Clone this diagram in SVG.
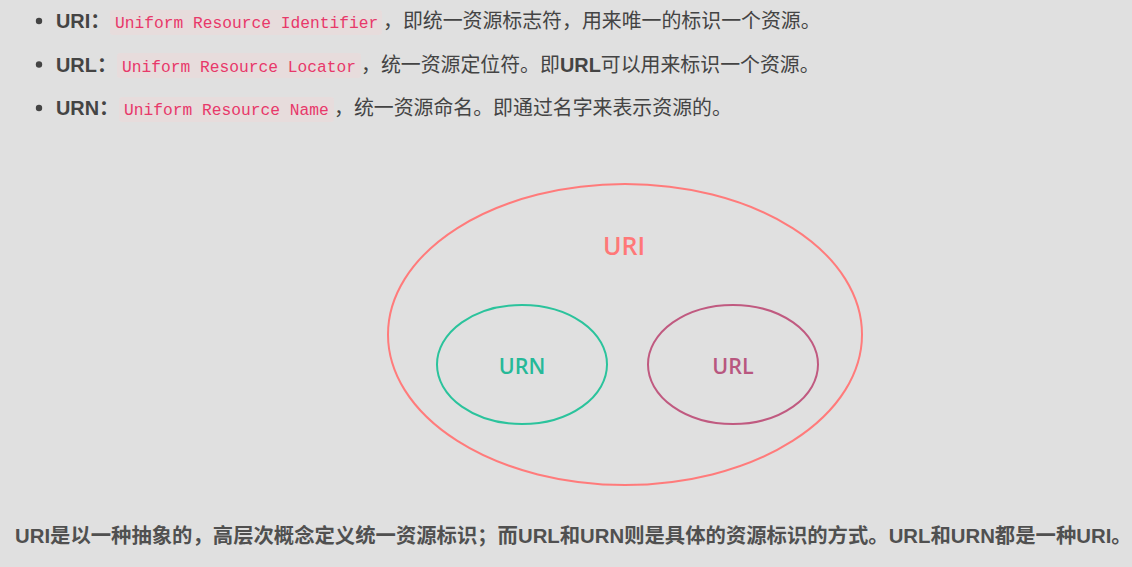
<svg xmlns="http://www.w3.org/2000/svg" width="1132" height="567" viewBox="0 0 1132 567">
<style>
.t{font-family:"Liberation Sans","Noto Sans CJK SC",sans-serif;font-size:19.9px;fill:#444}
.b{font-weight:bold}
.code{font-family:"Liberation Mono","DejaVu Sans Mono",monospace;font-size:16.25px;fill:#e8386a}
.cbg{fill:#e7dcdc}
.foot{font-family:"Liberation Sans","Noto Sans CJK SC",sans-serif;font-size:20.35px;font-weight:bold;fill:#505050}
.lbl{font-family:"Open Sans","Noto Sans",sans-serif;font-weight:600;text-anchor:middle}
.ell{fill:none;stroke-width:2}
</style>
<rect width="1132" height="567" fill="#e0e0e0"/>
<g id="list">
<circle cx="39" cy="21" r="3.2" fill="#444"/>
<text class="t b" x="56" y="28">URI：</text>
<rect class="cbg" x="110" y="10" width="272" height="25" rx="3"/>
<text class="code" x="115" y="28">Uniform Resource Identifier</text>
<text class="t" x="383" y="28">，即统一资源标志符，用来唯一的标识一个资源。</text>

<circle cx="39" cy="64.5" r="3.2" fill="#444"/>
<text class="t b" x="56" y="71.5">URL：</text>
<rect class="cbg" x="117" y="53" width="244" height="25" rx="3"/>
<text class="code" x="122" y="71.5">Uniform Resource Locator</text>
<text class="t" x="361" y="71.5">，统一资源定位符。即<tspan class="b">URL</tspan>可以用来标识一个资源。</text>

<circle cx="39" cy="108" r="3.2" fill="#444"/>
<text class="t b" x="56" y="115">URN：</text>
<rect class="cbg" x="119" y="97" width="215" height="25" rx="3"/>
<text class="code" x="124" y="115">Uniform Resource Name</text>
<text class="t" x="334" y="115">，统一资源命名。即通过名字来表示资源的。</text>
</g>
<g id="uri">
<ellipse class="ell" cx="625" cy="334.5" rx="237" ry="150.5" stroke="#ff7b7b"/>
<text class="lbl" x="624" y="255" font-size="25" fill="#ff7878">URI</text>
</g>
<g id="urn">
<ellipse class="ell" cx="522" cy="364.5" rx="85" ry="59.5" stroke="#2bc39c"/>
<text class="lbl" x="522" y="374" font-size="21.5" fill="#26b998">URN</text>
</g>
<g id="url">
<ellipse class="ell" cx="733" cy="364.5" rx="85" ry="59.5" stroke="#c05a80"/>
<text class="lbl" x="733" y="374" font-size="21.5" fill="#b8577f">URL</text>
</g>
<g id="connectors"/>
<text class="foot" x="15" y="543">URI是以一种抽象的，高层次概念定义统一资源标识；而URL和URN则是具体的资源标识的方式。URL和URN都是一种URI。</text>
</svg>
